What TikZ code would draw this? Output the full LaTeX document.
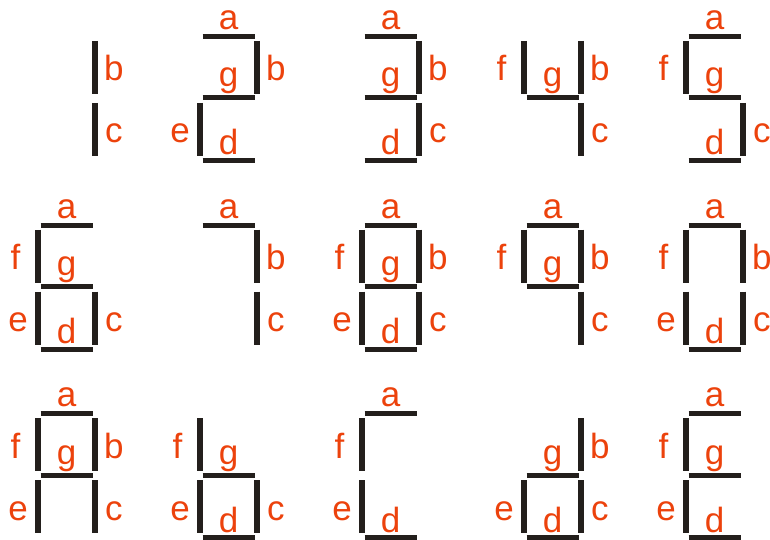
\documentclass[tikz,border=0pt]{standalone}
\usepackage{fontspec}
\setmainfont{Liberation Sans}
\usepackage{xstring}
\definecolor{segdark}{RGB}{35,31,28}
\definecolor{lblorange}{RGB}{236,66,12}

\begin{document}
\begin{tikzpicture}[x=1pt, y=-1pt,
  seg h/.style={draw=segdark, line width=5pt},
  seg v/.style={draw=segdark, line width=6pt},
  lbl/.style={text=lblorange, anchor=base, inner sep=0pt, font=\fontsize{35}{40}\selectfont}]
  \useasboundingbox (0,0) rectangle (770,540);
  % digit / column / row / lit segments
  \foreach \n/\col/\row/\segs [evaluate=\col as \px using 37.5+162*\col,
                              evaluate=\row as \py using 36.5+188.7*\row] in
    {1/0/0/bc, 2/1/0/abged, 3/2/0/abgcd, 4/3/0/fgbc, 5/4/0/afgcd,
     6/0/1/afgedc, 7/1/1/abc, 8/2/1/abcdefg, 9/3/1/afbgc, 0/4/1/abcdef,
     A/0/2/abcefg, b/1/2/cdefg, C/2/2/adef, d/3/2/bcdeg, E/4/2/adefg}{
    \begin{scope}[shift={(\px,\py)}]
      % segment / start / end / label position / style
      \foreach \s/\ax/\ay/\bx/\by/\lx/\ly/\st in
        {a/3/0/55/0/29/-7/seg h,
         b/57.5/4.5/57.5/57.5/76.3/44.5/seg v,
         c/57.5/66.5/57.5/119.5/76.3/106.5/seg v,
         d/3/124/55/124/29/118.5/seg h,
         e/0/66.5/0/119.5/-19.3/106.5/seg v,
         f/0/4.5/0/57.5/-22/44.5/seg v,
         g/3/61.5/55/61.5/29/50.5/seg h}{
        \IfSubStr{\segs}{\s}{%
          \coordinate (\n\s-p) at (\ax,\ay);
          \coordinate (\n\s-q) at (\bx,\by);
          \draw[\st] (\n\s-p) -- (\n\s-q);
          \node[lbl] (\n\s) at (\lx,\ly) {\s};
        }{}
      }
    \end{scope}
  }
\end{tikzpicture}
\end{document}
